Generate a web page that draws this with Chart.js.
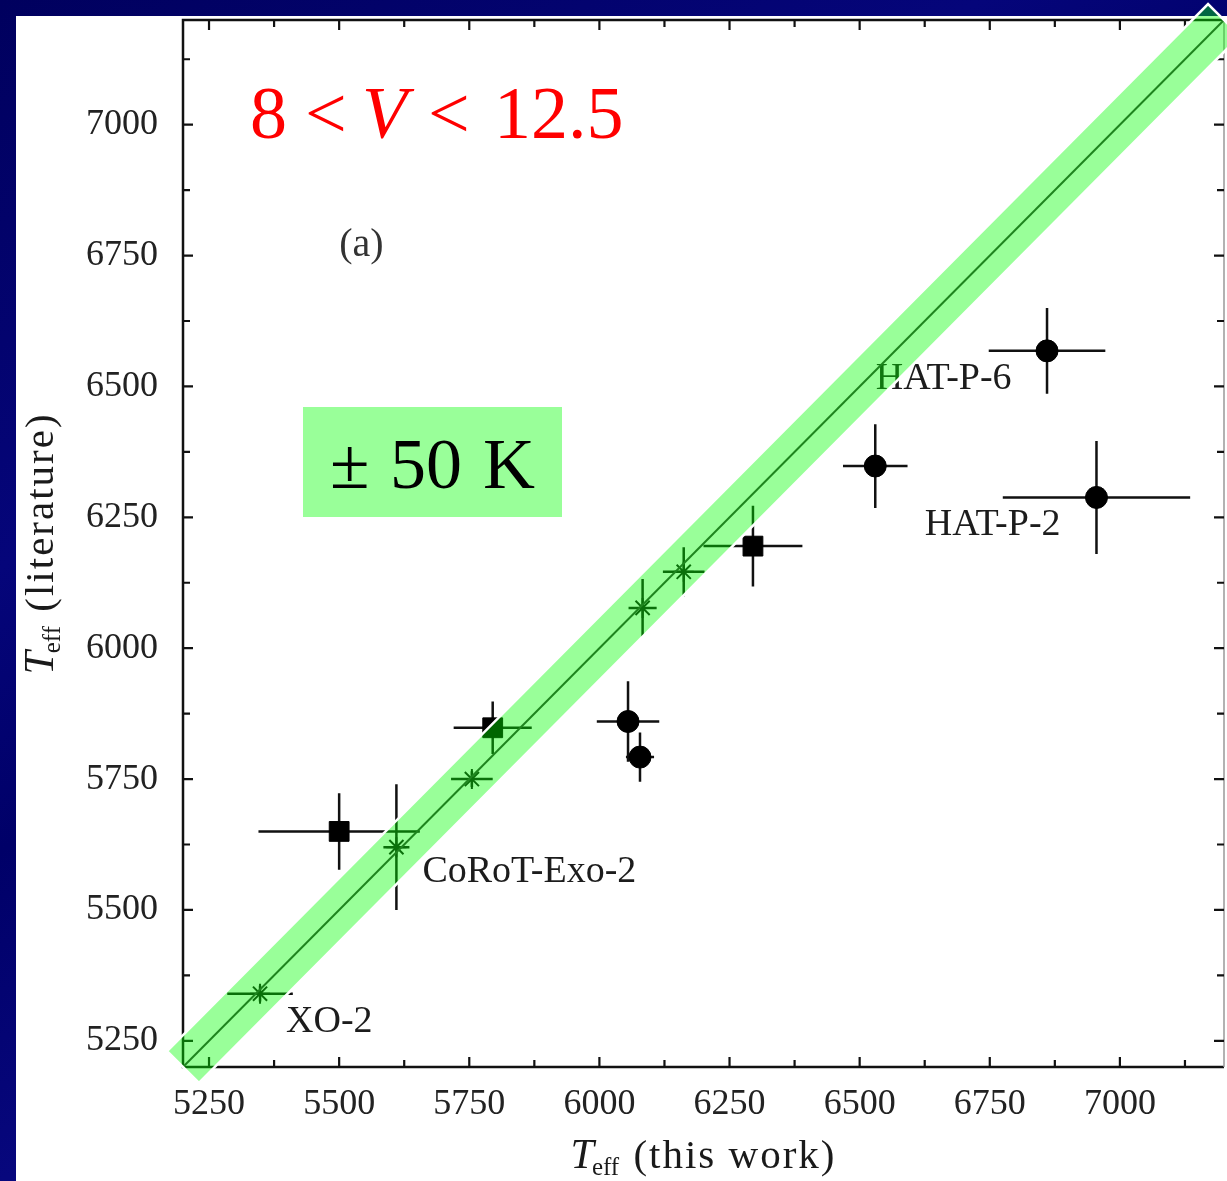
<!DOCTYPE html>
<html>
<head>
<meta charset="utf-8">
<script src="https://cdn.jsdelivr.net/npm/chart.js@4.4.1/dist/chart.umd.min.js"></script>
<style>
html,body{margin:0;padding:0}
body{width:1227px;height:1181px;overflow:hidden;position:relative;
  background:linear-gradient(150deg,#00005e 0%,#05057a 30%,#000068 45%,#0a0a86 70%,#000070 100%)}
#panel{position:absolute;left:16px;top:16px;right:0;bottom:0;background:#fff}
#c{position:absolute;left:0;top:0}
</style>
</head>
<body>
<div id="panel"></div>
<canvas id="c" width="1227" height="1181"></canvas>
<script>
// Teff comparison, 8 < V < 12.5
const circleX = [6055, 6078, 6530, 6860, 6955]
const circleY = [5860, 5792, 6348, 6568, 6288]
const circleErrX = [60, 27, 62, 112, 180]
const circleErrY = [77, 47, 80, 82, 108]

const squareX = [5500, 5795, 6295]
const squareY = [5650, 5848, 6195]
const squareErrX = [155, 75, 95]
const squareErrY = [73, 50, 77]

const starX = [5348, 5610, 5755, 6083, 6162]
const starY = [5340, 5620, 5750, 6077, 6146]
const starErrX = [63, 25, 40, 27, 40]
const starErrY = [15, 120, 15, 55, 47]

const planetNames = ["HAT-P-6", "HAT-P-2", "CoRoT-Exo-2", "XO-2"]
const planetNameX = [6531, 6625, 5660, 5398]
const planetNameY = [6514, 6235, 5572, 5285]

const oneToOne = [5200, 7200]
const tickValues = [5250, 5375, 5500, 5625, 5750, 5875, 6000, 6125, 6250, 6375, 6500, 6625, 6750, 6875, 7000, 7125]
const tickLabels = [5250, 5500, 5750, 6000, 6250, 6500, 6750, 7000]

const serif = '"Liberation Serif", "Times New Roman", serif'
const bandGreen = 'rgba(0,255,0,0.40)'

function errorSegments(xs, ys, ex, ey){
    let pts = []
    xs.forEach((x, i)=>{
        pts.push({x: x-ex[i], y: ys[i]}, {x: x+ex[i], y: ys[i]}, {x: null, y: null})
        pts.push({x: x, y: ys[i]-ey[i]}, {x: x, y: ys[i]+ey[i]}, {x: null, y: null})
    })
    return pts
}
function toPoints(xs, ys){
    return xs.map((x, i)=>({x: x, y: ys[i]}))
}

// inward ticks + box frame
const frame = {
    id: 'frame',
    beforeDatasetsDraw(chart){
        const {ctx, chartArea: a, scales: {x, y}} = chart
        ctx.save()
        ctx.strokeStyle = '#111'
        ctx.lineWidth = 2.5
        ctx.beginPath()
        ctx.moveTo(a.right, a.top); ctx.lineTo(a.left, a.top)
        ctx.lineTo(a.left, a.bottom); ctx.lineTo(a.right, a.bottom)
        ctx.stroke()
        ctx.strokeStyle = '#999'
        ctx.lineWidth = 1.5
        ctx.beginPath(); ctx.moveTo(a.right, a.top); ctx.lineTo(a.right, a.bottom); ctx.stroke()
        ctx.strokeStyle = '#111'
        ctx.lineWidth = 2.2
        tickValues.forEach(v=>{
            const len = tickLabels.includes(v) ? 10 : 7
            const px = x.getPixelForValue(v)
            const py = y.getPixelForValue(v)
            ctx.beginPath()
            ctx.moveTo(px, a.bottom); ctx.lineTo(px, a.bottom-len)
            ctx.moveTo(px, a.top); ctx.lineTo(px, a.top+len)
            ctx.moveTo(a.left, py); ctx.lineTo(a.left+len, py)
            ctx.moveTo(a.right, py); ctx.lineTo(a.right-len, py)
            ctx.stroke()
        })
        ctx.restore()
    }
}

function drawTeff(ctx, rest, cx, base){
    ctx.font = 'italic 42px ' + serif
    const w1 = ctx.measureText('T').width
    ctx.font = '25px ' + serif
    const w2 = ctx.measureText('eff').width
    ctx.font = '41px ' + serif
    ctx.letterSpacing = '2px'
    const w3 = ctx.measureText(rest).width
    ctx.letterSpacing = '0px'
    let x0 = cx - (w1+w2+w3)/2
    ctx.textAlign = 'left'
    ctx.textBaseline = 'alphabetic'
    ctx.font = 'italic 42px ' + serif
    ctx.fillText('T', x0, base)
    ctx.font = '25px ' + serif
    ctx.fillText('eff', x0+w1-2, base+7)
    ctx.font = '41px ' + serif
    ctx.letterSpacing = '2px'
    ctx.fillText(rest, x0+w1+w2, base)
    ctx.letterSpacing = '0px'
}

const notes = {
    id: 'notes',
    beforeDatasetsDraw(chart){
        const {ctx, chartArea: a, scales: {x, y}} = chart
        ctx.save()
        ctx.textBaseline = 'middle'
        ctx.textAlign = 'left'
        ctx.fillStyle = '#333'
        ctx.font = '40px ' + serif
        ctx.fillText('(a)', x.getPixelForValue(5500), y.getPixelForValue(6769))
        ctx.fillStyle = '#1c1c1c'
        ctx.font = '38px ' + serif
        planetNames.forEach((n, i)=>{
            ctx.fillText(n, x.getPixelForValue(planetNameX[i]), y.getPixelForValue(planetNameY[i]))
        })

        // magnitude range in red
        ctx.textBaseline = 'alphabetic'
        ctx.fillStyle = '#ff0000'
        ctx.font = '74px ' + serif
        ctx.fillText('8', 250, 138)
        ctx.fillText('<', 305, 138)
        ctx.fillText('<', 428, 138)
        ctx.fillText('12.5', 494, 138)
        ctx.font = 'italic 74px ' + serif
        ctx.fillText('V', 362, 138)

        // band legend box
        ctx.fillStyle = bandGreen
        ctx.fillRect(303, 407, 259, 110)
        ctx.fillStyle = '#000'
        ctx.font = '72px ' + serif
        ctx.fillText('±', 330, 488)
        ctx.fillText('50', 390, 488)
        ctx.fillText('K', 483, 488)

        // axis titles
        ctx.fillStyle = '#1a1a1a'
        drawTeff(ctx, ' (this work)', (a.left+a.right)/2, 1168)
        ctx.translate(53, (a.top+a.bottom)/2)
        ctx.rotate(-Math.PI/2)
        drawTeff(ctx, ' (literature)', 0, 0)
        ctx.restore()
    },
    afterDatasetsDraw(chart){
        // white outline round the band
        const meta = chart.getDatasetMeta(0)
        const p0 = meta.data[0], p1 = meta.data[1]
        const h = chart.data.datasets[0].borderWidth/2
        const dx = p1.x-p0.x, dy = p1.y-p0.y, len = Math.hypot(dx, dy)
        const nx = -dy/len*h, ny = dx/len*h
        const ctx = chart.ctx
        ctx.save()
        ctx.strokeStyle = '#fff'
        ctx.lineWidth = 2.5
        ctx.beginPath()
        ctx.moveTo(p0.x+nx, p0.y+ny); ctx.lineTo(p1.x+nx, p1.y+ny)
        ctx.lineTo(p1.x-nx, p1.y-ny); ctx.lineTo(p0.x-nx, p0.y-ny)
        ctx.closePath()
        ctx.stroke()
        ctx.restore()
    }
}

const tickFont = {family: serif, size: 36}

new Chart(document.getElementById('c'), {
    type: 'scatter',
    data: {
        datasets: [
            {
                label: 'band', data: toPoints(oneToOne, oneToOne), showLine: true,
                borderColor: bandGreen, borderWidth: 45, borderCapStyle: 'butt',
                pointRadius: 0, clip: false, order: 0
            },
            {
                label: 'one to one', data: toPoints(oneToOne, oneToOne), showLine: true,
                borderColor: '#333', borderWidth: 2, pointRadius: 0, order: 1
            },
            {
                label: 'circles', data: toPoints(circleX, circleY), pointStyle: 'circle',
                pointRadius: 11, backgroundColor: '#000', borderColor: '#000', borderWidth: 1, order: 2
            },
            {
                label: 'squares', data: toPoints(squareX, squareY), pointStyle: 'rect',
                pointRadius: 14, backgroundColor: '#000', borderColor: '#000', borderWidth: 1, order: 2
            },
            {
                label: 'stars', data: toPoints(starX, starY), pointStyle: 'star',
                pointRadius: 10, backgroundColor: '#000', borderColor: '#111', borderWidth: 2, order: 2
            },
            {
                label: 'circle errors', data: errorSegments(circleX, circleY, circleErrX, circleErrY),
                showLine: true, spanGaps: false, pointRadius: 0, borderColor: '#111', borderWidth: 2.5, order: 3
            },
            {
                label: 'square errors', data: errorSegments(squareX, squareY, squareErrX, squareErrY),
                showLine: true, spanGaps: false, pointRadius: 0, borderColor: '#111', borderWidth: 2.5, order: 3
            },
            {
                label: 'star errors', data: errorSegments(starX, starY, starErrX, starErrY),
                showLine: true, spanGaps: false, pointRadius: 0, borderColor: '#111', borderWidth: 2.5, order: 3
            }
        ]
    },
    options: {
        responsive: false,
        animation: false,
        devicePixelRatio: 1,
        events: [],
        layout: {autoPadding: false, padding: {top: 20, right: 3, left: 0, bottom: 0}},
        plugins: {legend: {display: false}, tooltip: {enabled: false}},
        scales: {
            x: {
                type: 'linear', min: 5200, max: 7200,
                afterBuildTicks: s=>{ s.ticks = tickValues.map(v=>({value: v})) },
                afterFit: s=>{ s.height = 114; s.paddingLeft = 0; s.paddingRight = 0 },
                grid: {display: false, drawTicks: false},
                border: {display: false},
                ticks: {
                    font: tickFont, color: '#222', padding: 16, autoSkip: false, maxRotation: 0,
                    callback: v=> tickLabels.includes(v) ? String(v) : ''
                }
            },
            y: {
                type: 'linear', min: 5200, max: 7200,
                afterBuildTicks: s=>{ s.ticks = tickValues.map(v=>({value: v})) },
                afterFit: s=>{ s.width = 183; s.paddingTop = 0; s.paddingBottom = 0 },
                grid: {display: false, drawTicks: false},
                border: {display: false},
                ticks: {
                    font: tickFont, color: '#222', padding: 25, autoSkip: false,
                    callback: v=> tickLabels.includes(v) ? String(v) : ''
                }
            }
        }
    },
    plugins: [frame, notes]
})
</script>
</body>
</html>
